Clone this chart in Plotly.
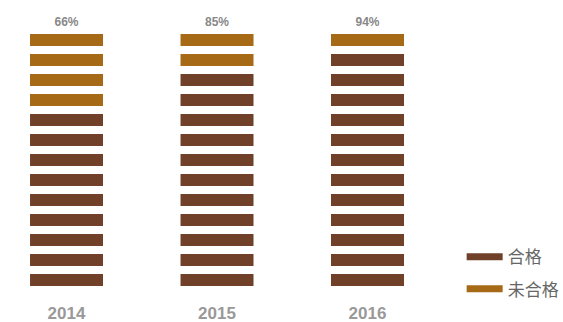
import plotly.graph_objects as go

years = ["2014", "2015", "2016"]
pass_rate = [66, 85, 94]          # % 合格
rate_labels = ["66%", "85%", "94%"]
n_units = 13                      # pictorial units per column

brown = "#704128"
orange = "#A66A16"

# how many units of each column are 合格
passed = [round(r * n_units / 100) for r in pass_rate]

px_x, px_base = [], []
fx, f_base = [], []
for yr, p in zip(years, passed):
    for i in range(n_units):
        if i < p:
            px_x.append(yr)
            px_base.append(i)
        else:
            fx.append(yr)
            f_base.append(i)

fig = go.Figure()
fig.add_trace(go.Bar(x=px_x, y=[0.6] * len(px_x), base=px_base, width=0.485,
                     marker=dict(color=brown, line=dict(width=0)),
                     showlegend=False, hoverinfo="skip"))
fig.add_trace(go.Bar(x=fx, y=[0.6] * len(fx), base=f_base, width=0.485,
                     marker=dict(color=orange, line=dict(width=0)),
                     showlegend=False, hoverinfo="skip"))

# percent labels above each column
fig.add_trace(go.Scatter(x=years, y=[n_units + 0.13] * 3, mode="text",
                         text=rate_labels, textposition="middle center",
                         textfont=dict(size=12, color="#888888",
                                       family="Liberation Sans", weight="bold"),
                         showlegend=False, hoverinfo="skip", cliponaxis=False))

# legend entries
fig.add_trace(go.Scatter(x=[None], y=[None], mode="lines", name="合格",
                         line=dict(color=brown, width=7), legendgroup="a"))
fig.add_trace(go.Scatter(x=[None], y=[None], mode="lines", name="未合格",
                         line=dict(color=orange, width=7), legendgroup="b"))

fig.update_layout(
    width=563, height=322,
    margin=dict(l=0, r=0, t=14, b=36, autoexpand=False),
    paper_bgcolor="white", plot_bgcolor="white",
    barmode="overlay",
    font=dict(family="Liberation Sans, Noto Sans CJK SC", color="#666666"),
    xaxis=dict(type="category", range=[-0.442, 3.299], showgrid=False,
               zeroline=False, showline=False, ticks="",
               ticklabelstandoff=15, automargin=False,
               tickfont=dict(size=17, color="#999999",
                             family="Liberation Sans", weight="bold")),
    yaxis=dict(range=[0, 13.6], visible=False),
    legend=dict(x=0.82, xanchor="left", y=0.047, yanchor="middle",
                font=dict(size=17, color="#666666",
                          family="Noto Sans CJK SC"),
                tracegroupgap=7, itemwidth=36, bgcolor="rgba(0,0,0,0)"),
)

fig.write_html("out.html", config={"displayModeBar": False},
               post_script="document.body.style.margin='0';")
